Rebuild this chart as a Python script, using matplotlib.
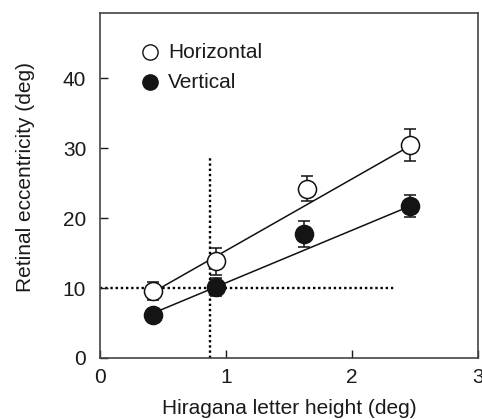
import numpy as np
import matplotlib
matplotlib.use("Agg")
import matplotlib.pyplot as plt

plt.rcParams['font.family'] = ['Liberation Sans', 'DejaVu Sans']

letter_height = [0.42, 0.92, 1.64, 2.46]
horiz = [9.6, 13.8, 24.2, 30.4]
horiz_err = [1.3, 1.9, 1.8, 2.3]
vert_x = [0.42, 0.92, 1.62, 2.46]
vert = [6.2, 10.2, 17.7, 21.7]
vert_err = [0.6, 1.3, 1.85, 1.55]

# fitted regression lines (endpoint values)
fit_x = [0.42, 2.46]
horiz_fit = [9.4, 30.3]
vert_fit = [6.4, 21.7]

crit_x = 0.87
crit_y = 10

fig = plt.figure(figsize=(4.82, 4.19), dpi=100)
ax = fig.add_axes([0.2075, 0.1456, 0.7842, 0.8234])

ax.plot(fit_x, horiz_fit, color='#111111', lw=1.1, zorder=2)
ax.plot(fit_x, vert_fit, color='#111111', lw=1.1, zorder=2)

ax.plot([crit_x, crit_x], [0, 28.8], ls=(0, (1, 1.2)), color='black', lw=1.7, zorder=1)
ax.plot([0, 2.33], [crit_y, crit_y], ls=(0, (1, 1.2)), color='black', lw=1.7, zorder=1)

ax.errorbar(letter_height, horiz, yerr=horiz_err, fmt='o', mfc='white', mec='#111111',
            ecolor='#111111', ms=13, mew=1.1, capsize=4, elinewidth=1.1, capthick=1.1, zorder=3)
ax.errorbar(vert_x, vert, yerr=vert_err, fmt='o', mfc='#141414', mec='#141414',
            ecolor='#111111', ms=13, mew=1.1, capsize=4, elinewidth=1.1, capthick=1.1, zorder=3)

# legend
ax.plot([0.40], [43.7], 'o', mfc='white', mec='#111111', ms=11, mew=1.0)
ax.plot([0.40], [39.4], 'o', mfc='#141414', mec='#141414', ms=11, mew=1.0)
ax.text(0.54, 43.7, 'Horizontal', va='center', ha='left', fontsize=15, color='#1a1a1a')
ax.text(0.54, 39.4, 'Vertical', va='center', ha='left', fontsize=15, color='#1a1a1a')

ax.set_xlim(0, 3)
ax.set_ylim(0, 49.3)
ax.set_xticks([0, 1, 2, 3])
ax.set_yticks([0, 10, 20, 30, 40])
ax.tick_params(direction='in', length=6, width=1, labelsize=15, colors='#1a1a1a', pad=7)
ax.tick_params(axis='y', pad=10)
ax.set_xlabel('Hiragana letter height (deg)', fontsize=15, color='#1a1a1a', labelpad=9)
ax.set_ylabel('Retinal eccentricity (deg)', fontsize=15, color='#1a1a1a')
ax.yaxis.set_label_coords(-0.172, 0.525)
for s in ax.spines.values():
    s.set_color('#444444')
    s.set_linewidth(1.2)

fig.savefig('out.png', dpi=100)
